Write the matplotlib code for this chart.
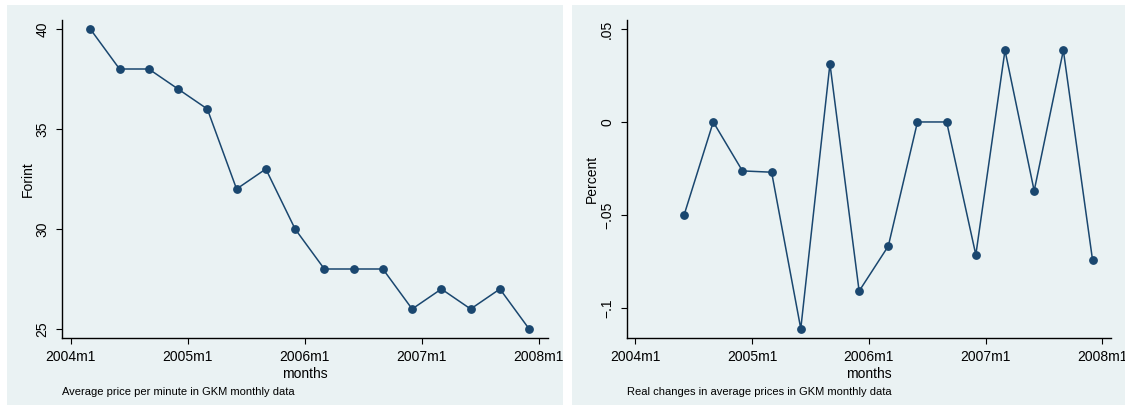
import matplotlib
matplotlib.use("Agg")
import matplotlib.pyplot as plt
from matplotlib.patches import Rectangle

# ------------------------------------------------------------
# GKM monthly data (quarterly observations)
# ------------------------------------------------------------

price_months = ["2004m3", "2004m6", "2004m9", "2004m12",
                "2005m3", "2005m6", "2005m9", "2005m12",
                "2006m3", "2006m6", "2006m9", "2006m12",
                "2007m3", "2007m6", "2007m9", "2007m12"]
avg_price = [40, 38, 38, 37, 36, 32, 33, 30, 28, 28, 28, 26, 27, 26, 27, 25]

change_months = price_months[1:]
real_change = [-0.05, 0.0, -0.0263, -0.027, -0.1111, 0.03125, -0.0909,
               -0.0667, 0.0, 0.0, -0.0714, 0.0385, -0.037, 0.0385, -0.0741]

year_ticks = ["2004m1", "2005m1", "2006m1", "2007m1", "2008m1"]


def month_index(label):
    # months elapsed since 2004m1
    year, month = label.split("m")
    return (int(year) - 2004) * 12 + int(month) - 1


plt.rcParams["font.family"] = ["Liberation Sans", "DejaVu Sans"]

BG = "#EAF2F3"
NAVY = "#1A476F"

fig = plt.figure(figsize=(11.25, 4.05), dpi=100)
fig.patch.set_facecolor("white")

# panel backgrounds, kept behind the axes
for x0, w in [(7, 556), (572, 553)]:
    fig.add_artist(Rectangle((x0 / 1125, 0), w / 1125, 1 - 5 / 405,
                             transform=fig.transFigure, facecolor=BG,
                             edgecolor="none", zorder=-10))

ax1 = fig.add_axes([62 / 1125, 1 - 338 / 405, 485.7 / 1125, 318 / 405])
ax2 = fig.add_axes([626.7 / 1125, 1 - 338 / 405, 484.3 / 1125, 318 / 405])


def style_axis(ax, yticks, yticklabels, ylabel, ylabel_x, caption):
    ax.set_facecolor(BG)
    for side in ["top", "right"]:
        ax.spines[side].set_visible(False)
    for side in ["left", "bottom"]:
        ax.spines[side].set_linewidth(1.0)
        ax.spines[side].set_color("black")
    ax.set_xlim(-0.9, 48.9)
    ax.set_xticks([month_index(t) for t in year_ticks])
    ax.set_xticklabels(year_ticks, fontsize=10)
    ax.set_yticks(yticks)
    ax.set_yticklabels(yticklabels, fontsize=10, rotation=90, va="center")
    ax.tick_params(axis="both", length=4, width=0.8, direction="out")
    ax.tick_params(axis="x", pad=4.5)
    ax.tick_params(axis="y", pad=5)
    ax.set_xlabel("months", fontsize=10, labelpad=2)
    ax.set_ylabel(ylabel, fontsize=10)
    ax.yaxis.set_label_coords(ylabel_x, 0.5)
    ax.text(0.0, -0.17, caption, transform=ax.transAxes, fontsize=8,
            ha="left", va="center")


x1 = [month_index(m) for m in price_months]
ax1.plot(x1, avg_price, color=NAVY, linewidth=1.1, marker="o",
         markersize=5.3, markerfacecolor=NAVY, markeredgecolor=NAVY,
         clip_on=False)
ax1.set_ylim(24.55, 40.45)
style_axis(ax1, [25, 30, 35, 40], ["25", "30", "35", "40"], "Forint", -0.055,
           "Average price per minute in GKM monthly data")

x2 = [month_index(m) for m in change_months]
ax2.plot(x2, real_change, color=NAVY, linewidth=1.1, marker="o",
         markersize=5.3, markerfacecolor=NAVY, markeredgecolor=NAVY,
         clip_on=False)
ax2.set_ylim(-0.1161, 0.0548)
style_axis(ax2, [-0.1, -0.05, 0, 0.05], ["\u2212.1", "\u2212.05", "0", ".05"],
           "Percent", -0.058, "Real changes in average prices in GKM monthly data")

fig.savefig("out.png", dpi=100, facecolor="white")
